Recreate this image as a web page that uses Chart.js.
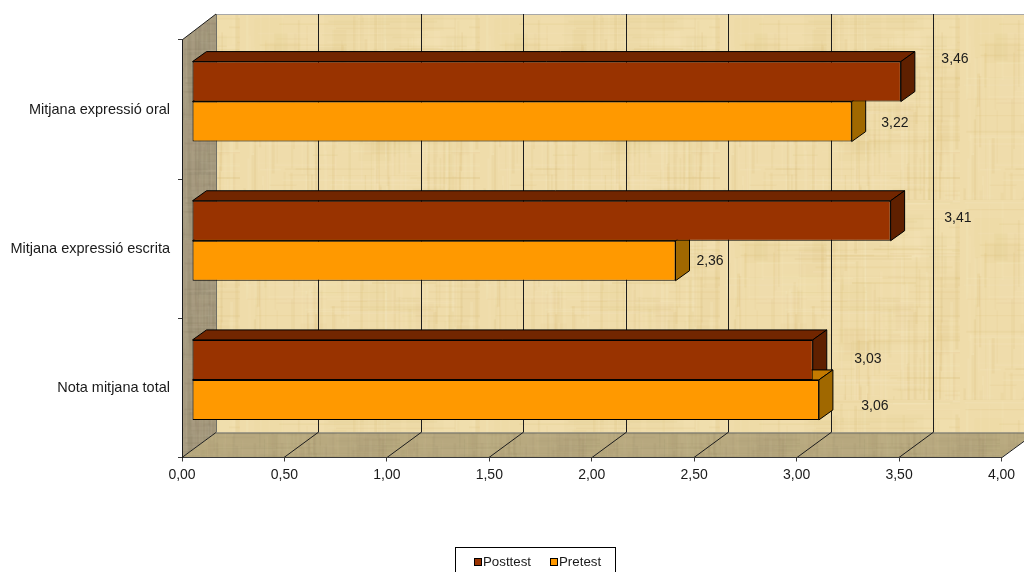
<!DOCTYPE html>
<html lang="ca">
<head>
<meta charset="utf-8">
<title>Nota mitjana</title>
<script src="https://cdn.jsdelivr.net/npm/chart.js@4"></script>
<style>
  html, body { margin: 0; padding: 0; background: #fff; overflow: hidden; }
  #wrap { width: 1024px; height: 572px; }
</style>
</head>
<body>
<div id="wrap"><canvas id="chart" width="1024" height="572"></canvas></div>
<script>
// Chart values
const categories = ['Mitjana expressió oral', 'Mitjana expressió escrita', 'Nota mitjana total'];
const posttest = [3.46, 3.41, 3.03];
const pretest = [3.22, 2.36, 3.06];
const axisTicks = [0, 0.5, 1, 1.5, 2, 2.5, 3, 3.5, 4];

// Hand placement of the value labels relative to each bar end: [dx, dy]
const posttestLabelNudge = [[54.1, -22.6], [67.3, -2.75], [55.1, -1]];
const pretestLabelNudge = [[43.2, 1.4], [34.5, 0.25], [56, 6]];

const FONT = '"Liberation Sans", Arial, sans-serif';
const TICK_SIZE = 14;
const CATEGORY_SIZE = 14.5;
const LEGEND_SIZE = 13.3;
const TEXT = '#1a1a1a';

// 3D box geometry
const WALL_DX = 34, WALL_DY_TOP = 26, WALL_DY_BOTTOM = 25;
const BAR_SHIFT_X = 10, BAR_SHIFT_Y = -8;
const BAR_DX = 14, BAR_DY = 10;

const faceColors = [
  { top: '#722600', side: '#5f2000' },
  { top: '#c47a00', side: '#a06800' }
];

// Woven paper texture: small seeded generator keeps it stable between runs
function weave(w, h, base, streak, light, seed) {
  let s = seed;
  const rnd = () => (s = (s * 1664525 + 1013904223) >>> 0) / 4294967296;
  const c = document.createElement('canvas');
  c.width = w; c.height = h;
  const g = c.getContext('2d');
  g.fillStyle = base;
  g.fillRect(0, 0, w, h);
  for (let i = 0; i < 30; i++) {
    g.fillStyle = rnd() < 0.6 ? streak : light;
    g.globalAlpha = 0.03 + rnd() * 0.06;
    g.fillRect(rnd() * w, rnd() * h, 12 + rnd() * 30, 12 + rnd() * 30);
  }
  for (let i = 0; i < 160; i++) {
    g.fillStyle = rnd() < 0.55 ? streak : light;
    g.globalAlpha = 0.05 + rnd() * 0.12;
    const y = rnd() * h;
    g.fillRect(rnd() * w, y, 1 + rnd() * 2, 20 + rnd() * h * 0.6);
  }
  for (let i = 0; i < 130; i++) {
    g.fillStyle = rnd() < 0.5 ? streak : light;
    g.globalAlpha = 0.05 + rnd() * 0.11;
    const x = rnd() * w;
    g.fillRect(x, rnd() * h, 20 + rnd() * w * 0.5, 1 + rnd());
  }
  return c;
}

function poly(ctx, pts, fill, stroke) {
  ctx.beginPath();
  pts.forEach((p, i) => (i ? ctx.lineTo(p[0], p[1]) : ctx.moveTo(p[0], p[1])));
  ctx.closePath();
  if (fill) { ctx.fillStyle = fill; ctx.fill(); }
  if (stroke) { ctx.strokeStyle = stroke; ctx.lineWidth = 1; ctx.stroke(); }
}

// Back wall, side wall, floor and the gridlines running across them
const roomPlugin = {
  id: 'room',
  beforeDraw(chart) {
    const { ctx, chartArea: a, scales: { x } } = chart;
    const top = a.top - WALL_DY_TOP, floorBack = a.bottom - WALL_DY_BOTTOM;
    const backL = a.left + WALL_DX, backR = a.right + WALL_DX;
    ctx.save();
    const back = ctx.createPattern(weave(240, 200, '#efdcaa', '#d6b86e', '#fbf0cf', 11), 'repeat');
    const side = ctx.createPattern(weave(60, 120, '#a89c80', '#8a7e64', '#bdb298', 29), 'repeat');
    const floor = ctx.createPattern(weave(200, 60, '#b9aa80', '#9c8d66', '#cbbd94', 47), 'repeat');

    poly(ctx, [[backL, top], [backR, top], [backR, floorBack], [backL, floorBack]], back);
    poly(ctx, [[a.left, a.top], [backL, top], [backL, floorBack], [a.left, a.bottom]], side);
    poly(ctx, [[a.left, a.bottom], [backL, floorBack], [backR, floorBack], [a.right, a.bottom]], floor);

    ctx.lineWidth = 1;
    ctx.strokeStyle = '#a8a8a8';
    ctx.beginPath(); ctx.moveTo(backL, top + 0.5); ctx.lineTo(backR, top + 0.5); ctx.stroke();
    ctx.strokeStyle = '#6f6f66';
    ctx.beginPath(); ctx.moveTo(backL, floorBack + 0.5); ctx.lineTo(backR, floorBack + 0.5); ctx.stroke();
    ctx.beginPath(); ctx.moveTo(backL + 0.5, top); ctx.lineTo(backL + 0.5, floorBack); ctx.stroke();

    ctx.strokeStyle = '#1c1c1c';
    ctx.beginPath();
    ctx.moveTo(a.left, a.top); ctx.lineTo(backL, top);
    axisTicks.forEach(v => {
      const px = Math.round(x.getPixelForValue(v));
      ctx.moveTo(px, a.bottom);
      ctx.lineTo(px + WALL_DX, floorBack);
      if (v > 0) {
        ctx.moveTo(px + WALL_DX + 0.5, floorBack);
        ctx.lineTo(px + WALL_DX + 0.5, top);
      }
    });
    ctx.stroke();
    ctx.restore();
  }
};

// Bars are pushed into the room; top and end faces go in behind the fronts
const boxPlugin = {
  id: 'box',
  beforeDatasetsDraw(chart) {
    const { ctx } = chart;
    ctx.save();
    ctx.translate(BAR_SHIFT_X, BAR_SHIFT_Y);
    chart.data.datasets.forEach((ds, d) => {
      const colors = faceColors[d];
      chart.getDatasetMeta(d).data.forEach(bar => {
        const y0 = bar.y - bar.height / 2, y1 = bar.y + bar.height / 2;
        const x0 = bar.base, x1 = bar.x;
        poly(ctx, [[x0, y0], [x0 + BAR_DX, y0 - BAR_DY], [x1 + BAR_DX, y0 - BAR_DY], [x1, y0]], colors.top, '#000');
        poly(ctx, [[x1, y0], [x1 + BAR_DX, y0 - BAR_DY], [x1 + BAR_DX, y1 - BAR_DY], [x1, y1]], colors.side, '#000');
      });
    });
  },
  afterDatasetsDraw(chart) {
    chart.ctx.restore();
  }
};

// Value labels with decimal comma
const valueLabelPlugin = {
  id: 'valueLabels',
  afterDatasetsDraw(chart) {
    const { ctx } = chart;
    const nudges = [posttestLabelNudge, pretestLabelNudge];
    ctx.save();
    ctx.font = TICK_SIZE + 'px ' + FONT;
    ctx.fillStyle = TEXT;
    ctx.textAlign = 'center';
    ctx.textBaseline = 'middle';
    chart.data.datasets.forEach((ds, d) => {
      chart.getDatasetMeta(d).data.forEach((bar, i) => {
        const [dx, dy] = nudges[d][i];
        const text = ds.data[i].toFixed(2).replace('.', ',');
        ctx.fillText(text, bar.x + BAR_SHIFT_X + dx, bar.y + BAR_SHIFT_Y + dy);
      });
    });
    ctx.restore();
  }
};

// Framed legend with tight swatch spacing, running off the bottom of the page
const legendPlugin = {
  id: 'framedLegend',
  afterDraw(chart) {
    const { ctx } = chart;
    const swatchX = [474, 550];
    ctx.save();
    ctx.fillStyle = '#fff';
    ctx.strokeStyle = '#000';
    ctx.lineWidth = 1;
    ctx.fillRect(455.5, 547.5, 160, 30);
    ctx.strokeRect(455.5, 547.5, 160, 30);
    ctx.font = LEGEND_SIZE + 'px ' + FONT;
    ctx.textBaseline = 'middle';
    ctx.textAlign = 'left';
    chart.data.datasets.forEach((ds, d) => {
      ctx.fillStyle = ds.backgroundColor;
      ctx.fillRect(swatchX[d] + 0.5, 558.5, 7, 7);
      ctx.strokeRect(swatchX[d] + 0.5, 558.5, 7, 7);
      ctx.fillStyle = TEXT;
      ctx.fillText(ds.label, swatchX[d] + 9, 562.5);
    });
    ctx.restore();
  }
};

const barStyle = { borderColor: '#000', borderWidth: 1, borderSkipped: false, clip: false };

new Chart(document.getElementById('chart'), {
  type: 'bar',
  data: {
    labels: categories,
    datasets: [
      { label: 'Posttest', data: posttest, backgroundColor: '#993300', ...barStyle },
      { label: 'Pretest', data: pretest, backgroundColor: '#ff9900', ...barStyle }
    ]
  },
  options: {
    indexAxis: 'y',
    responsive: false,
    animation: false,
    events: [],
    layout: { padding: { top: 40, right: 22.5, bottom: 0, left: 0 } },
    datasets: { bar: { barPercentage: 1, categoryPercentage: 0.5748 } },
    scales: {
      x: {
        min: 0,
        max: 4,
        afterFit(scale) { scale.height = 114.5; },
        afterBuildTicks(scale) { scale.ticks = axisTicks.map(value => ({ value })); },
        border: { display: true, color: '#3a3a3a' },
        grid: { drawOnChartArea: false, drawTicks: true, tickLength: 4, color: '#3a3a3a' },
        ticks: {
          autoSkip: false,
          maxRotation: 0,
          padding: 5,
          color: TEXT,
          font: { family: FONT, size: TICK_SIZE },
          callback: v => v.toFixed(2).replace('.', ',')
        }
      },
      y: {
        afterFit(scale) { scale.width = 182; },
        border: { display: true, color: '#1c1c1c' },
        grid: { drawOnChartArea: false, drawTicks: true, tickLength: 4, color: '#3a3a3a' },
        ticks: {
          padding: 8,
          color: TEXT,
          font: { family: FONT, size: CATEGORY_SIZE }
        }
      }
    },
    plugins: { legend: { display: false }, tooltip: { enabled: false }, title: { display: false } }
  },
  plugins: [roomPlugin, boxPlugin, valueLabelPlugin, legendPlugin]
});
</script>
</body>
</html>
